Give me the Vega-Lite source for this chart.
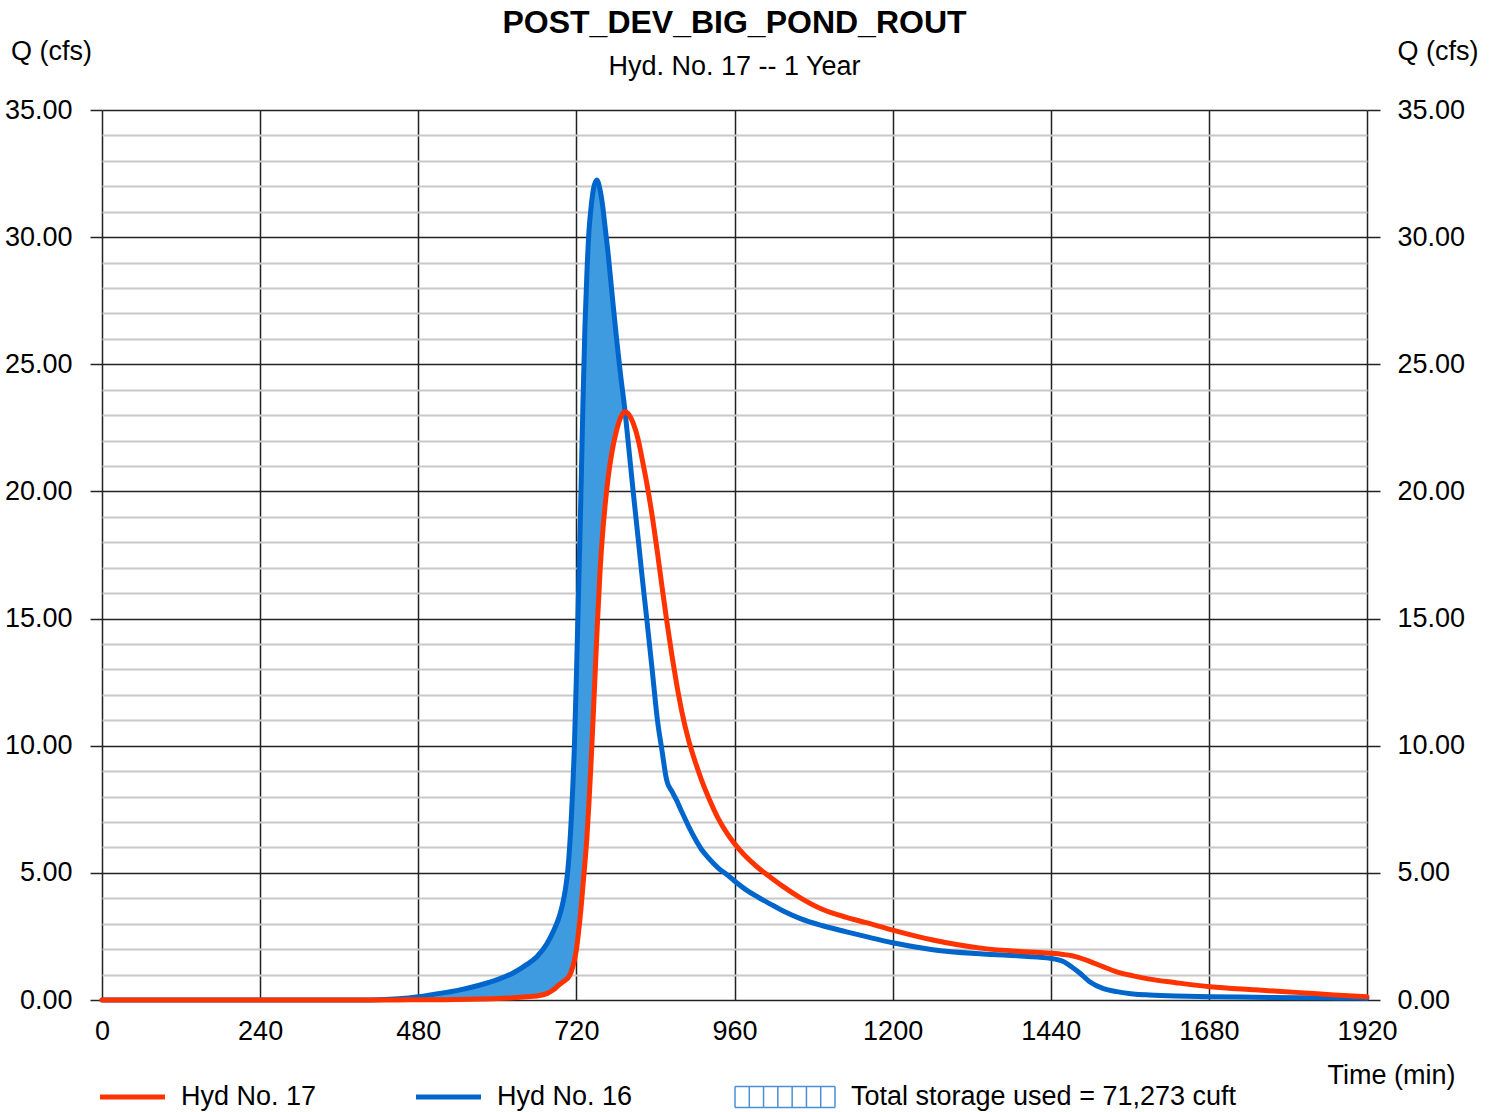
{
  "$schema": "https://vega.github.io/schema/vega-lite/v6.json",
  "width": 1265,
  "height": 890,
  "autosize": {"type": "none"},
  "padding": {"left": 102, "top": 110, "right": 127, "bottom": 112},
  "background": "white",
  "config": {
    "font": "Liberation Sans",
    "view": {"stroke": null},
    "axis": {
      "labelFont": "Liberation Sans",
      "labelFontSize": 27,
      "labelColor": "#000000",
      "titleFont": "Liberation Sans",
      "titleFontSize": 27,
      "titleFontWeight": "normal",
      "titleColor": "#000000",
      "tickColor": "#222222",
      "tickWidth": 1.5,
      "domain": false,
      "labelOverlap": false
    }
  },
  "title": {
    "text": "POST_DEV_BIG_POND_ROUT",
    "subtitle": "Hyd. No. 17 -- 1 Year",
    "font": "Liberation Sans",
    "fontSize": 32,
    "fontWeight": "bold",
    "color": "#000000",
    "subtitleFont": "Liberation Sans",
    "subtitleFontSize": 27,
    "subtitleColor": "#000000",
    "subtitlePadding": 14,
    "anchor": "middle",
    "offset": -44
  },
  "data": {
    "values": [
      {"t": 0, "q16": 0, "q17": 0},
      {"t": 240, "q16": 0, "q17": 0},
      {"t": 400, "q16": 0, "q17": 0},
      {"t": 420, "q16": 0.01, "q17": 0},
      {"t": 450, "q16": 0.05, "q17": 0},
      {"t": 480, "q16": 0.13, "q17": 0.01},
      {"t": 510, "q16": 0.25, "q17": 0.01},
      {"t": 540, "q16": 0.38, "q17": 0.02},
      {"t": 574, "q16": 0.59, "q17": 0.04},
      {"t": 600, "q16": 0.8, "q17": 0.06},
      {"t": 624, "q16": 1.06, "q17": 0.09},
      {"t": 645, "q16": 1.4, "q17": 0.13},
      {"t": 660, "q16": 1.7, "q17": 0.16},
      {"t": 675, "q16": 2.2, "q17": 0.25},
      {"t": 685, "q16": 2.7, "q17": 0.4},
      {"t": 693, "q16": 3.2, "q17": 0.58},
      {"t": 698, "q16": 3.65, "q17": 0.68},
      {"t": 703, "q16": 4.3, "q17": 0.78},
      {"t": 707, "q16": 5.1, "q17": 0.86},
      {"t": 712, "q16": 7.0, "q17": 1.1},
      {"t": 717, "q16": 10.0, "q17": 1.55},
      {"t": 720, "q16": 12.7, "q17": 1.97},
      {"t": 723, "q16": 15.7, "q17": 2.6},
      {"t": 727, "q16": 20.0, "q17": 3.6},
      {"t": 730, "q16": 23.5, "q17": 4.5},
      {"t": 733, "q16": 26.5, "q17": 5.4},
      {"t": 736, "q16": 28.6, "q17": 6.4},
      {"t": 739, "q16": 30.2, "q17": 7.7},
      {"t": 742, "q16": 31.1, "q17": 9.2},
      {"t": 746, "q16": 31.9, "q17": 11.4},
      {"t": 751, "q16": 32.25, "q17": 14.3},
      {"t": 756, "q16": 31.85, "q17": 16.9},
      {"t": 760, "q16": 31.2, "q17": 18.4},
      {"t": 764, "q16": 30.3, "q17": 19.55},
      {"t": 768, "q16": 29.4, "q17": 20.5},
      {"t": 774, "q16": 27.8, "q17": 21.55},
      {"t": 781, "q16": 26.0, "q17": 22.4},
      {"t": 787, "q16": 24.6, "q17": 22.9},
      {"t": 794, "q16": 23.12, "q17": 23.13},
      {"t": 798, "q16": 22.1, "q17": 23.07},
      {"t": 806, "q16": 20.05, "q17": 22.7},
      {"t": 814, "q16": 18.09, "q17": 22.02},
      {"t": 820, "q16": 16.6, "q17": 21.25},
      {"t": 827, "q16": 14.94, "q17": 20.3},
      {"t": 835, "q16": 13.0, "q17": 19.05},
      {"t": 843, "q16": 11.01, "q17": 17.6},
      {"t": 850, "q16": 9.8, "q17": 16.25},
      {"t": 857, "q16": 8.65, "q17": 14.94},
      {"t": 865, "q16": 8.2, "q17": 13.55},
      {"t": 872, "q16": 7.86, "q17": 12.45},
      {"t": 880, "q16": 7.4, "q17": 11.35},
      {"t": 890, "q16": 6.85, "q17": 10.25},
      {"t": 900, "q16": 6.35, "q17": 9.4},
      {"t": 910, "q16": 5.92, "q17": 8.65},
      {"t": 920, "q16": 5.6, "q17": 8.0},
      {"t": 935, "q16": 5.2, "q17": 7.15},
      {"t": 950, "q16": 4.9, "q17": 6.5},
      {"t": 960, "q16": 4.68, "q17": 6.15},
      {"t": 975, "q16": 4.38, "q17": 5.7},
      {"t": 994, "q16": 4.07, "q17": 5.24},
      {"t": 1014, "q16": 3.78, "q17": 4.84},
      {"t": 1034, "q16": 3.5, "q17": 4.46},
      {"t": 1060, "q16": 3.2, "q17": 4.02},
      {"t": 1094, "q16": 2.92, "q17": 3.56},
      {"t": 1130, "q16": 2.68, "q17": 3.25},
      {"t": 1160, "q16": 2.49, "q17": 3.04},
      {"t": 1200, "q16": 2.25, "q17": 2.75},
      {"t": 1261, "q16": 1.98, "q17": 2.36},
      {"t": 1337, "q16": 1.81, "q17": 2.03},
      {"t": 1400, "q16": 1.72, "q17": 1.9},
      {"t": 1439, "q16": 1.64, "q17": 1.84},
      {"t": 1459, "q16": 1.51, "q17": 1.79},
      {"t": 1472, "q16": 1.3, "q17": 1.74},
      {"t": 1484, "q16": 1.06, "q17": 1.66},
      {"t": 1499, "q16": 0.72, "q17": 1.52},
      {"t": 1520, "q16": 0.45, "q17": 1.3},
      {"t": 1540, "q16": 0.33, "q17": 1.11},
      {"t": 1565, "q16": 0.24, "q17": 0.95},
      {"t": 1590, "q16": 0.2, "q17": 0.82},
      {"t": 1630, "q16": 0.16, "q17": 0.68},
      {"t": 1682, "q16": 0.13, "q17": 0.52},
      {"t": 1750, "q16": 0.11, "q17": 0.4},
      {"t": 1818, "q16": 0.09, "q17": 0.29},
      {"t": 1870, "q16": 0.08, "q17": 0.2},
      {"t": 1920, "q16": 0.07, "q17": 0.13}
    ]
  },
  "encoding": {
    "x": {
      "field": "t",
      "type": "quantitative",
      "scale": {"domain": [0, 1920], "nice": false, "zero": true},
      "axis": {
        "values": [0, 240, 480, 720, 960, 1200, 1440, 1680, 1920],
        "format": "d",
        "grid": true,
        "gridColor": "#222222",
        "gridWidth": 1.5,
        "ticks": false,
        "labelPadding": 18,
        "labelFlush": false,
        "title": "Time (min)",
        "titleAlign": "right",
        "titleBaseline": "alphabetic",
        "titleX": 1353,
        "titleY": 83
      }
    }
  },
  "layer": [
    {
      "transform": [{"filter": "datum.t <= 794"}],
      "mark": {"type": "area", "interpolate": "monotone", "opacity": 1},
      "encoding": {
        "y": {
          "field": "q16",
          "type": "quantitative",
          "scale": {"domain": [0, 35], "nice": false},
          "axis": {
            "orient": "left",
            "values": [1, 2, 3, 4, 6, 7, 8, 9, 11, 12, 13, 14, 16, 17, 18, 19, 21, 22, 23, 24, 26, 27, 28, 29, 31, 32, 33, 34],
            "grid": true,
            "gridColor": "#C8C8C8",
            "gridWidth": 2,
            "labels": false,
            "ticks": false,
            "title": null
          }
        },
        "y2": {"field": "q17"},
        "fill": {
          "datum": "Total storage used = 71,273 cuft",
          "type": "nominal",
          "scale": {"domain": ["Total storage used = 71,273 cuft"], "range": ["#3F9BDF"]},
          "legend": {
            "title": null,
            "orient": "none",
            "legendX": 632,
            "legendY": 936,
            "padding": 0,
            "symbolType": "M-1,-0.21H1 M-1,0.21H1 M-1,-0.21V0.21 M1,-0.21V0.21 M-0.714,-0.21V0.21 M-0.429,-0.21V0.21 M-0.143,-0.21V0.21 M0.143,-0.21V0.21 M0.429,-0.21V0.21 M0.714,-0.21V0.21",
            "symbolSize": 10000,
            "symbolStrokeColor": "#4A8FD8",
            "symbolStrokeWidth": 1.5,
            "labelOffset": 15,
            "labelFont": "Liberation Sans",
            "labelFontSize": 27,
            "labelColor": "#000000",
            "labelLimit": 0
          }
        }
      }
    },
    {
      "mark": {"type": "line", "interpolate": "monotone", "strokeWidth": 5, "strokeCap": "round", "strokeJoin": "round"},
      "encoding": {
        "y": {
          "field": "q16",
          "type": "quantitative",
          "axis": {
            "orient": "left",
            "values": [0, 5, 10, 15, 20, 25, 30, 35],
            "format": ".2f",
            "grid": true,
            "gridColor": "#222222",
            "gridWidth": 1.5,
            "tickSize": 12,
            "labelPadding": 18,
            "title": "Q (cfs)",
            "titleAngle": 0,
            "titleAlign": "center",
            "titleBaseline": "alphabetic",
            "titleX": -51,
            "titleY": -51
          }
        },
        "stroke": {
          "datum": "Hyd No. 16",
          "type": "nominal",
          "scale": {"domain": ["Hyd No. 17", "Hyd No. 16"], "range": ["#FF3300", "#0066CC"]},
          "legend": {
            "title": null,
            "orient": "none",
            "legendX": -4.5,
            "legendY": 952,
            "direction": "horizontal",
            "padding": 0,
            "symbolType": "stroke",
            "symbolSize": 4225,
            "symbolStrokeWidth": 5,
            "labelOffset": 13.5,
            "columnPadding": 89,
            "labelFont": "Liberation Sans",
            "labelFontSize": 27,
            "labelColor": "#000000",
            "labelLimit": 0
          }
        }
      }
    },
    {
      "mark": {"type": "line", "interpolate": "monotone", "strokeWidth": 5, "strokeCap": "round", "strokeJoin": "round"},
      "encoding": {
        "y": {
          "field": "q17",
          "type": "quantitative",
          "axis": {
            "orient": "right",
            "values": [0, 5, 10, 15, 20, 25, 30, 35],
            "format": ".2f",
            "grid": false,
            "tickSize": 13,
            "labelPadding": 17,
            "title": "Q (cfs)",
            "titleAngle": 0,
            "titleAlign": "center",
            "titleBaseline": "alphabetic",
            "titleX": 70.5,
            "titleY": -51
          }
        },
        "stroke": {"datum": "Hyd No. 17", "type": "nominal"}
      }
    }
  ],
  "resolve": {"scale": {"y": "shared"}, "axis": {"y": "independent"}}
}
